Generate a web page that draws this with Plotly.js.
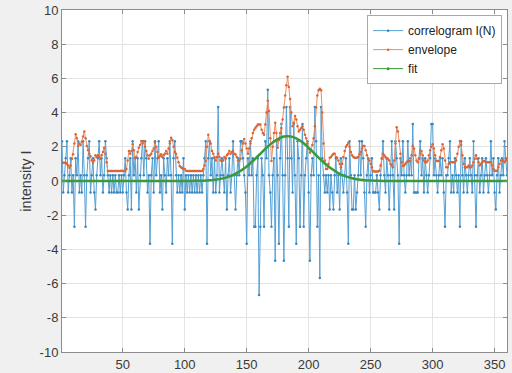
<!DOCTYPE html>
<html>
<head>
<meta charset="utf-8">
<script src="https://cdn.plot.ly/plotly-3.0.1.min.js"></script>
<style>html,body{margin:0;padding:0;background:#f0f0f0;}#chart{width:512px;height:373px;}</style>
</head>
<body>
<div id="chart"></div>
<script>
// correlogram I(N), samples N = 1..360
const correlogram = [
 2.33,-0.67,0.33,1.33,2.33,-0.67,0.33,1.33,-0.67,0.33,
 -2.67,1.33,0.33,2.33,-0.67,0.33,-0.67,2.33,0.33,-2.67,
 0.33,1.33,2.33,-0.67,0.33,1.33,-0.67,-1.67,0.33,1.33,
 2.33,0.33,1.33,-0.67,0.33,2.33,1.33,0.33,-0.67,0.33,
 -0.67,0.33,-0.67,0.33,-0.67,-0.67,0.33,-0.67,0.33,-0.67,
 0.33,1.33,-0.67,-1.67,0.33,1.33,-1.67,2.33,0.33,1.33,
 -0.67,1.33,-1.67,0.33,1.33,2.33,0.33,2.33,1.33,-0.67,
 0.33,-3.67,0.33,1.33,-0.67,2.33,0.33,1.33,2.33,-0.67,
 0.33,-1.67,1.33,0.33,-0.67,1.33,0.33,2.33,0.33,-3.67,
 1.33,2.33,0.33,-0.67,0.33,-0.67,0.33,-0.67,1.33,-1.67,
 0.33,-0.67,0.33,-0.67,0.33,-0.67,0.33,-0.67,0.33,-0.67,
 0.33,-0.67,0.33,-0.67,0.33,1.33,2.33,-3.67,1.33,2.33,
 0.33,1.33,-0.67,1.33,-0.67,0.33,4.33,-0.67,0.33,1.33,
 0.33,-0.67,1.33,-1.67,0.33,1.33,-0.67,0.33,2.33,0.33,
 -1.67,0.33,1.33,0.33,2.33,2.33,1.33,0.33,-0.67,-3.67,
 1.33,0.33,2.33,0.33,1.33,-2.67,-2.67,0.33,1.33,-6.67,
 -2.67,1.33,0.33,-2.67,2.33,1.33,5.33,0.33,-0.67,-2.67,
 0.33,1.33,-4.67,2.33,0.33,-3.67,1.33,3.33,0.33,-4.67,
 0.33,4.33,1.33,-2.67,4.33,1.33,-0.67,3.33,0.33,-3.67,
 2.33,1.33,-2.67,0.33,3.33,-2.67,0.33,1.33,2.33,-0.67,
 -4.67,0.33,1.33,0.33,4.33,2.33,-2.67,0.33,-5.67,4.33,
 1.33,0.33,-0.67,0.33,-0.67,0.33,-1.67,0.33,-0.67,-1.67,
 0.33,1.33,-0.67,0.33,-1.67,1.33,0.33,-0.67,0.33,1.33,
 -0.67,-3.67,2.33,0.33,-1.67,-1.67,0.33,-1.67,-0.67,0.33,
 2.33,0.33,2.33,1.33,-0.67,-2.67,0.33,1.33,-0.67,0.33,
 1.33,-0.67,-0.67,-0.67,0.33,-0.67,-1.67,0.33,1.33,2.33,
 0.33,-0.67,1.33,0.33,-1.67,0.33,2.33,0.33,-1.67,2.33,
 1.33,0.33,-3.67,1.33,0.33,2.33,0.33,-0.67,0.33,2.33,
 0.33,1.33,0.33,3.33,-0.67,-0.67,-0.67,-0.67,1.33,2.33,
 0.33,1.33,-0.67,1.33,0.33,-0.67,0.33,1.33,3.33,3.33,
 0.33,1.33,0.33,-0.67,0.33,1.33,0.33,1.33,-0.67,-2.67,
 0.33,0.33,1.33,2.33,-0.67,0.33,-0.67,1.33,0.33,-0.67,
 0.33,-2.67,2.33,0.33,-0.67,1.33,0.33,-0.67,0.33,1.33,
 0.33,-0.67,2.33,0.33,-2.67,0.33,1.33,-0.67,0.33,1.33,
 -0.67,0.33,1.33,0.33,-0.67,0.33,2.33,0.33,1.33,-0.67,
 -1.67,0.33,1.33,-0.67,0.33,1.33,0.33,2.33,1.33,0.33
];
const envelope = [
 1.07,1.07,1.07,1.07,1.0,0.9,0.78,0.9,1.3,1.56,
 2.2,2.74,2.5,2.05,2.2,2.1,2.3,2.6,2.9,2.5,
 2.05,1.8,1.6,1.45,1.2,1.07,1.2,1.5,1.4,1.5,
 1.4,1.3,1.5,1.7,1.95,1.6,1.1,0.58,0.58,0.58,
 0.58,0.58,0.58,0.58,0.58,0.58,0.58,0.58,0.6,0.58,
 0.58,0.58,0.7,1.2,1.75,1.6,1.75,2.15,1.8,1.36,
 1.4,1.7,1.95,2.1,2.34,2.2,2.34,2.0,1.75,1.5,
 1.3,1.5,1.6,1.75,1.9,2.24,2.0,1.7,1.36,1.45,
 1.56,1.4,1.5,1.6,1.75,1.6,1.9,2.2,2.53,2.4,
 2.0,1.7,1.6,1.36,1.1,0.88,0.8,0.75,0.7,0.7,
 0.6,0.58,0.58,0.58,0.58,0.58,0.58,0.58,0.58,0.58,
 0.58,0.58,0.58,0.58,0.7,0.9,1.17,2.0,2.7,2.34,
 2.2,1.75,1.6,1.4,1.2,1.4,1.6,1.4,1.2,1.17,
 1.2,1.4,1.3,1.5,1.6,1.75,1.6,1.7,1.75,1.6,
 1.55,1.4,1.2,1.17,1.3,1.8,2.2,2.46,2.2,1.9,
 1.6,1.9,2.2,2.5,2.8,3.0,3.1,3.2,3.3,3.3,
 3.3,3.0,2.8,2.7,3.3,4.0,4.7,4.1,2.5,1.17,
 2.0,2.8,3.4,2.8,1.95,2.4,2.8,3.1,3.6,4.3,
 5.0,5.6,6.1,5.5,4.8,4.0,3.2,3.4,3.8,3.6,
 3.2,2.9,3.0,3.1,3.2,3.0,2.7,2.5,2.2,1.9,
 1.65,1.8,2.1,2.5,3.2,4.3,5.0,5.3,5.4,5.3,
 4.0,2.2,1.2,0.7,0.7,1.0,1.36,1.4,1.5,1.6,
 1.6,1.4,1.36,1.2,1.0,0.8,1.0,1.4,1.75,2.0,
 2.1,2.24,2.0,1.7,1.5,1.4,1.36,1.36,1.36,1.4,
 1.56,1.7,1.9,2.05,2.05,1.8,1.5,1.3,1.2,1.0,
 0.8,0.58,0.55,0.55,0.55,0.55,0.6,0.9,1.3,1.6,
 1.5,1.4,1.3,1.3,1.2,1.0,0.9,0.8,1.2,2.2,
 3.15,2.9,2.34,1.6,1.1,0.88,0.9,1.0,1.1,1.17,
 1.17,1.17,1.5,2.05,1.9,1.5,1.2,1.1,1.3,1.6,
 1.75,1.5,1.2,1.1,1.1,1.2,1.5,1.8,2.0,2.15,
 1.9,1.5,1.17,1.17,1.17,1.4,1.8,2.15,1.9,1.2,
 0.8,0.8,1.0,1.1,1.1,1.1,1.1,1.1,1.2,1.6,
 2.0,2.34,2.1,1.5,1.0,0.8,0.8,0.8,0.9,0.8,
 0.8,0.9,1.1,1.3,1.5,1.3,1.1,0.9,1.0,1.1,
 1.17,1.17,1.1,1.1,1.1,1.1,1.1,0.9,0.7,0.6,
 0.6,0.6,0.8,1.0,1.2,1.2,1.2,1.1,1.2,1.3
];
// fitted curve, read at selected N
const fitN = [1,10,20,30,40,50,60,70,80,90,100,110,115,120,125,130,135,140,145,150,155,160,165,170,175,180,183,185,190,195,200,205,210,215,220,225,230,235,240,245,250,255,260,270,280,290,300,310,320,330,340,350,360];
const fitI = [0,0,0,0,0,0,0,0,0,0,0,0.01,0.02,0.04,0.08,0.14,0.24,0.39,0.59,0.85,1.17,1.52,1.88,2.20,2.45,2.60,2.62,2.61,2.49,2.26,1.94,1.59,1.23,0.91,0.64,0.42,0.27,0.16,0.09,0.05,0.025,0.012,0.006,0,0,0,0,0,0,0,0,0,0];
const seriesNames = ['correlogram I(N)', 'envelope', 'fit'];
const xTicks = [50,100,150,200,250,300,350];
const yTicks = [-10,-8,-6,-4,-2,0,2,4,6,8,10];

const N = correlogram.map((_, i) => i + 1);
const green = '#3a9a3a';

const traces = [
  {x: N, y: correlogram, name: seriesNames[0], type: 'scatter', mode: 'lines+markers',
   line: {color: '#559fd3', width: 1}, marker: {color: '#3a86c0', size: 2.5}},
  {x: N, y: envelope, name: seriesNames[1], type: 'scatter', mode: 'lines+markers',
   line: {color: '#ea8d62', width: 1}, marker: {color: '#d9663a', size: 2.5}},
  {x: fitN, y: fitI, name: seriesNames[2], type: 'scatter', mode: 'lines', showlegend: false,
   line: {color: green, width: 2.5, shape: 'spline'}},
  // legend entry for the fit (thin line with dot, as in the original legend)
  {x: [null], y: [null], name: seriesNames[2], type: 'scatter', mode: 'lines+markers',
   line: {color: green, width: 1}, marker: {color: green, size: 3}}
];

const axisCommon = {
  showline: true, linecolor: '#8c8c8c', linewidth: 1, mirror: 'ticks',
  ticks: 'inside', ticklen: 4, tickcolor: '#8c8c8c',
  showgrid: true, gridcolor: '#e3e3e3', gridwidth: 1, zeroline: false,
  tickfont: {family: 'Liberation Sans, Arial, sans-serif', size: 13, color: '#3a3a3a'}
};

const layout = {
  width: 512, height: 373,
  paper_bgcolor: '#f0f0f0', plot_bgcolor: '#ffffff',
  margin: {l: 62, r: 5, t: 10, b: 21},
  showlegend: true,
  font: {family: 'Liberation Sans, Arial, sans-serif', size: 13, color: '#3a3a3a'},
  xaxis: Object.assign({}, axisCommon, {range: [1, 360], tickvals: xTicks, ticktext: xTicks.map(String)}),
  yaxis: Object.assign({}, axisCommon, {range: [-10, 10], tickvals: yTicks, ticktext: yTicks.map(String),
    title: {text: 'intensity I', font: {size: 14.5, color: '#3a3a3a'}, standoff: 4}}),
  legend: {x: 0.989, xanchor: 'right', y: 0.985, yanchor: 'top',
    bgcolor: '#ffffff', bordercolor: '#a8a8a8', borderwidth: 1,
    font: {size: 12, color: '#222'}, itemwidth: 30, tracegroupgap: 0}
};

Plotly.newPlot('chart', traces, layout, {staticPlot: true, displayModeBar: false});
</script>
</body>
</html>
